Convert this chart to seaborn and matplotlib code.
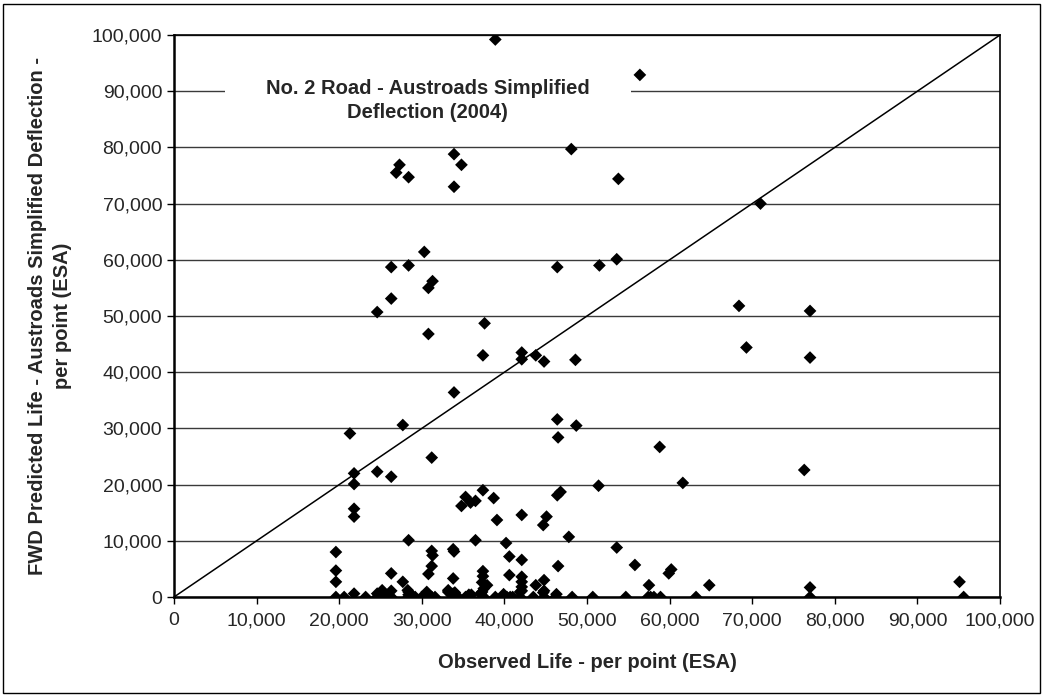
import matplotlib
matplotlib.use("Agg")
import matplotlib.pyplot as plt
import matplotlib.ticker as mticker
from matplotlib.patches import Rectangle
import seaborn as sns
import pandas as pd

# Observed life (thousand ESA) and FWD predicted life (thousand ESA)
obs_upper = [38.9, 56.4, 48.1, 33.9, 27.3, 34.8, 26.9, 28.4, 53.8, 33.9, 71.0,
             30.3, 26.3, 28.4, 46.4, 51.5, 53.6, 31.3, 30.8, 26.3, 68.4, 77.0,
             24.6, 37.6, 30.8, 69.3, 42.1, 37.4, 43.8, 77.0, 42.1, 48.6, 44.8,
             33.9, 46.4, 27.7, 48.7, 21.3, 46.5, 58.8, 31.2, 76.3, 24.6, 21.8,
             26.3, 61.6, 21.8, 51.4, 37.4, 46.8, 46.4, 35.3, 38.7, 36.5, 35.9,
             34.8, 21.8, 42.1, 21.8, 45.1, 39.1, 44.7, 47.8, 28.4, 36.5]
pred_upper = [99.2, 92.9, 79.7, 78.8, 76.9, 76.9, 75.5, 74.7, 74.4, 73.0, 70.0,
              61.4, 58.7, 59.0, 58.7, 59.0, 60.1, 56.2, 55.0, 53.1, 51.8, 50.9,
              50.7, 48.7, 46.8, 44.4, 43.5, 43.0, 43.0, 42.6, 42.3, 42.2, 41.9,
              36.4, 31.6, 30.6, 30.5, 29.1, 28.4, 26.7, 24.8, 22.6, 22.3, 22.0,
              21.4, 20.3, 20.1, 19.8, 19.0, 18.7, 18.1, 17.8, 17.6, 17.1, 16.8,
              16.2, 15.7, 14.6, 14.3, 14.3, 13.7, 12.8, 10.7, 10.1, 10.1]

obs_lower = [40.2, 53.6, 33.8, 31.2, 33.9, 19.6, 31.3, 40.6, 42.1, 55.8, 31.2,
             46.5, 60.2, 19.6, 37.4, 59.9, 26.3, 30.8, 40.6, 37.4, 42.1, 33.8,
             44.8, 19.6, 27.7, 37.3, 42.1, 95.1, 57.5, 64.8, 37.9, 43.8, 42.1,
             77.0, 37.5, 25.2, 28.3, 33.2, 26.3, 42.1, 44.8, 28.4, 30.6, 37.3,
             41.9, 33.2, 34.0, 44.7, 21.8, 24.6, 33.8, 37.1, 46.3, 39.9, 25.6,
             28.4, 30.8, 33.6, 36.0, 35.7]
pred_lower = [9.6, 8.8, 8.5, 8.2, 8.1, 8.0, 7.4, 7.2, 6.6, 5.7, 5.5,
              5.5, 4.9, 4.7, 4.6, 4.2, 4.2, 4.1, 3.9, 3.7, 3.6, 3.3,
              3.0, 2.7, 2.7, 2.6, 2.7, 2.7, 2.1, 2.1, 2.1, 2.1, 1.8,
              1.7, 1.5, 1.2, 1.2, 1.2, 1.1, 1.1, 1.1, 0.9, 0.9, 0.9,
              0.9, 0.9, 0.8, 0.8, 0.6, 0.6, 0.6, 0.6, 0.5, 0.5, 0.4,
              0.4, 0.4, 0.4, 0.4, 0.4]

obs_zero = [19.6, 20.6, 23.2, 24.6, 26.3, 28.4, 28.9, 29.2, 29.0, 31.2, 31.6,
            33.8, 34.4, 35.3, 37.5, 38.9, 40.3, 40.7, 41.0, 41.9, 43.5, 44.8,
            46.2, 48.2, 50.7, 54.7, 57.4, 57.7, 58.1, 58.9, 63.2, 77.0, 95.6,
            30.2, 30.0]
pred_zero = [0.0] * len(obs_zero)

title_text = "No. 2 Road - Austroads Simplified\nDeflection (2004)"
x_label = "Observed Life - per point (ESA)"
y_label = "FWD Predicted Life - Austroads Simplified Deflection -\nper point (ESA)"
axis_ticks = list(range(0, 100001, 10000))

observed = [v * 1000 for v in obs_upper + obs_lower + obs_zero]
predicted = [v * 1000 for v in pred_upper + pred_lower + pred_zero]
df = pd.DataFrame({"observed": observed, "predicted": predicted})

sns.set_style("white")
plt.rcParams["font.family"] = ["Liberation Sans", "DejaVu Sans"]

fig = plt.figure(figsize=(10.44, 6.96), dpi=100)
ax = fig.add_axes([174 / 1044, 1 - 597 / 696, 826 / 1044, 562 / 696])

ax.set_xlim(0, 100000)
ax.set_ylim(0, 100000)
ax.set_xticks(axis_ticks)
ax.set_yticks(axis_ticks)
fmt = mticker.FuncFormatter(lambda v, p: f"{v:,.0f}")
ax.xaxis.set_major_formatter(fmt)
ax.yaxis.set_major_formatter(fmt)

ax.yaxis.grid(True, color="#3a3a3a", linewidth=1.0)
ax.xaxis.grid(False)
ax.set_axisbelow(True)

# title box hiding gridline
ax.add_patch(Rectangle((6200, 84000), 49100, 11200, facecolor="white",
                       edgecolor="none", zorder=1.5))
ax.text(30700, 88400, title_text, ha="center", va="center", fontsize=14.5,
        fontweight="bold", linespacing=1.35, zorder=3)

ax.plot([0, 100000], [0, 100000], color="black", linewidth=1.1, zorder=2)

sns.scatterplot(data=df, x="observed", y="predicted", ax=ax, marker="D",
                s=42, color="black", edgecolor="none", zorder=4, legend=False)

ax.set_xlabel(x_label, fontsize=14.5, fontweight="bold", labelpad=17)
ax.set_ylabel(y_label, fontsize=14.5, fontweight="bold", labelpad=14,
              linespacing=1.4)
ax.tick_params(axis="both", labelsize=14, length=5, width=1,
               color="black", direction="out", left=True, bottom=True)
ax.tick_params(axis="x", pad=6)

for side, sp in ax.spines.items():
    sp.set_color("black")
    sp.set_linewidth(1.2)
ax.spines["left"].set_linewidth(1.8)
ax.spines["bottom"].set_linewidth(1.8)

fig.patches.append(Rectangle((3 / 1044, 3 / 696), 1037 / 1044, 689 / 696,
                             transform=fig.transFigure, fill=False,
                             edgecolor="black", linewidth=1.0))

fig.savefig("out.png", dpi=100)
